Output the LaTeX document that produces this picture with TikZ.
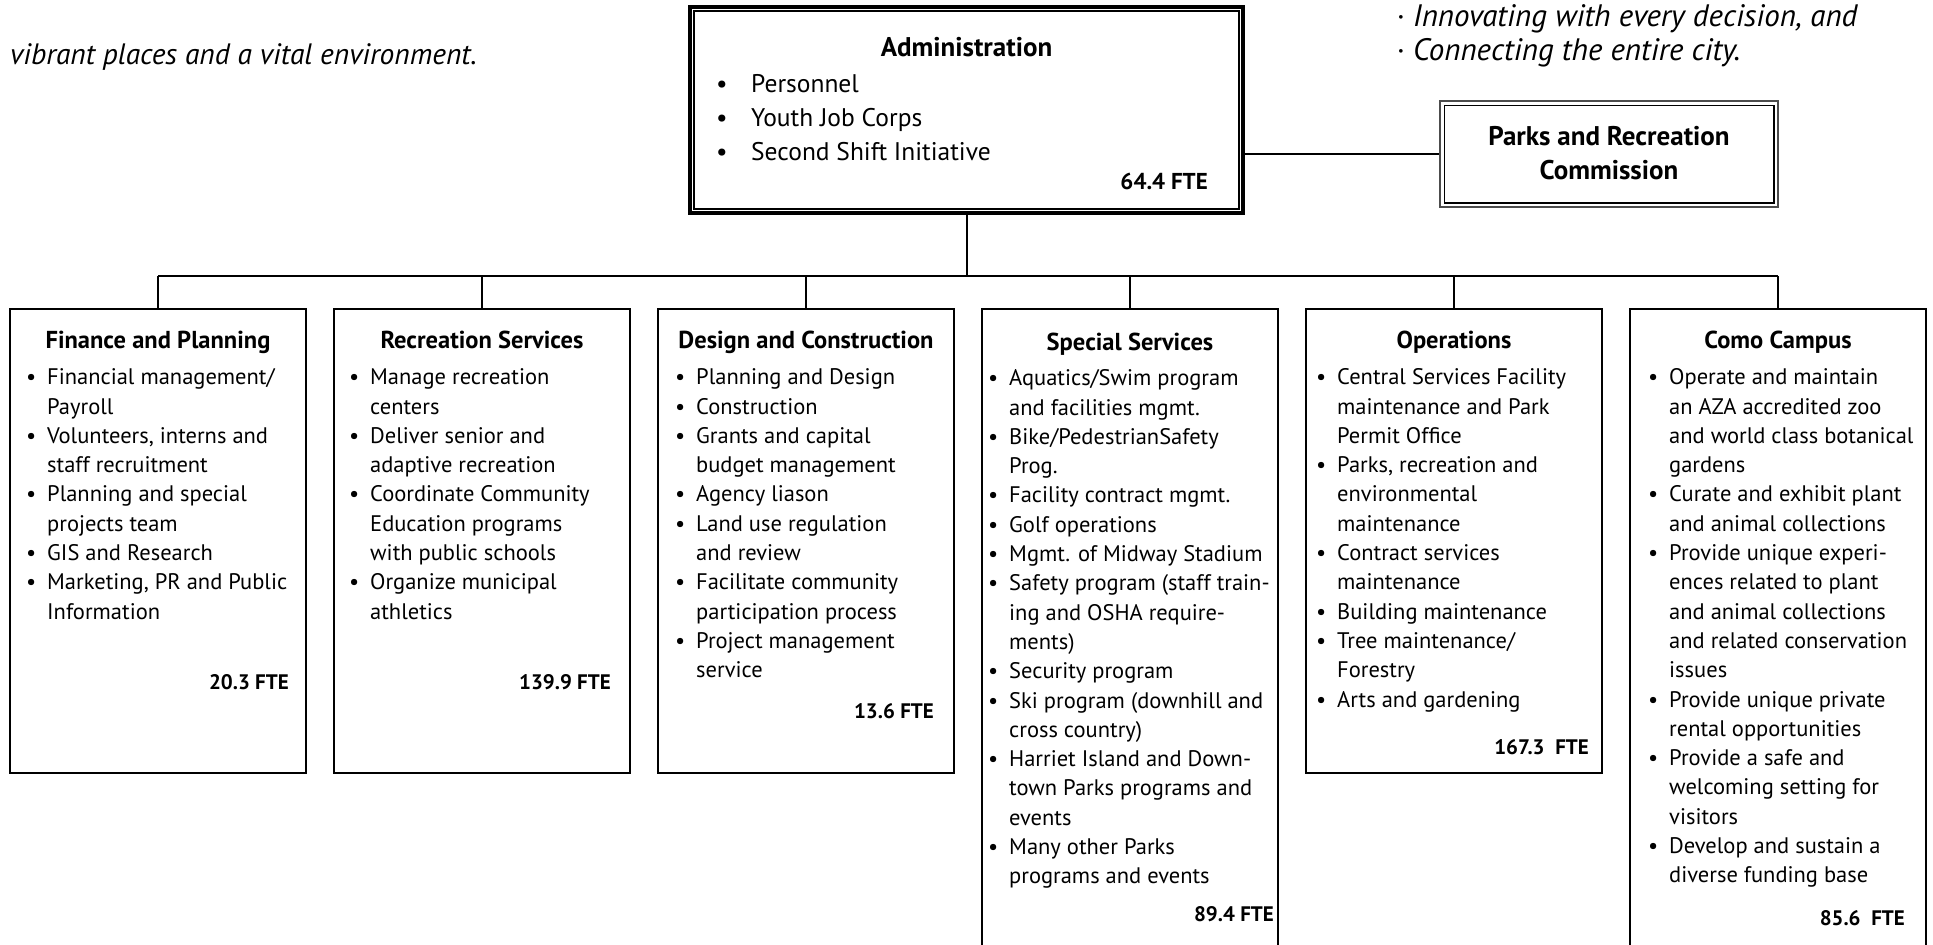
\documentclass[tikz,border=0pt]{standalone}
\usepackage{fontspec}
\setmainfont{PT Sans}
\newcommand\bul{\makebox[21pt][l]{\textbullet}}
\newcommand\abul{\makebox[35pt][l]{\textbullet}}
\newcommand\ibul{\makebox[17pt][l]{·}}
\begin{document}
\begin{tikzpicture}[x=1pt,y=-1pt,
  box/.style={draw, line width=2pt, minimum width=296pt, anchor=north, inner sep=0pt},
  ttl/.style={font=\bfseries\fontsize{24.5}{28}\selectfont, anchor=base, inner sep=0pt},
  lst/.style={anchor=north west, inner sep=0pt, font=\fontsize{22.5}{29.3}\selectfont},
  fte/.style={font=\bfseries\fontsize{21}{24}\selectfont, anchor=east, inner sep=0pt},
  conn/.style={line width=2pt},
  intro/.style={inner sep=0pt, font=\itshape\fontsize{29.5}{34}\selectfont}
]
\path[use as bounding box] (0,0) rectangle (1933,945);
\clip (0,0) rectangle (1933,945);

% intro texts
\node[intro, anchor=west] (introL) at (10,57) {vibrant places and a vital environment.};
\node[intro, font=\itshape\fontsize{31}{34.5}\selectfont, anchor=north west] (introR) at (1396,2) {\begin{tabular}{@{}l@{}}
\ibul Innovating with every decision, and\\
\ibul Connecting the entire city.
\end{tabular}};

% Administration
\node[draw, line width=4pt, minimum width=553pt, minimum height=206pt, inner sep=0pt] (adm) at (966.5,110) {};
\draw[line width=1.3pt] ([shift={(6,6)}]adm.north west) rectangle ([shift={(-6,-6)}]adm.south east);
\node[font=\bfseries\fontsize{27}{30}\selectfont, inner sep=0pt, anchor=base] (admT) at (966.5,56) {Administration};
\node[anchor=north west, inner sep=0pt, font=\fontsize{25.5}{34}\selectfont] (admL) at (716,68) {\begin{tabular}{@{}l@{}}
\abul Personnel\\
\abul Youth Job Corps\\
\abul Second Shift Initiative
\end{tabular}};
\node[fte, font=\bfseries\fontsize{23}{26}\selectfont] (admF) at (1208,181) {64.4 FTE};

% Commission
\node[draw, line width=1.2pt, draw=black!70, minimum width=338pt, minimum height=106pt, inner sep=0pt] (com) at (1609,154) {};
\draw[line width=1.8pt] ([shift={(5,5)}]com.north west) rectangle ([shift={(-5,-5)}]com.south east);
\node[font=\bfseries\fontsize{27}{34}\selectfont, align=center, inner sep=0pt] (comT) at (1609,153) {Parks and Recreation\\Commission};

\draw[conn] (adm.east |- com.west) -- (com.west);

% department boxes
\node[box, minimum height=464pt] (fin) at (158,308) {};
\node[box, minimum height=464pt] (rec) at (482,308) {};
\node[box, minimum height=464pt] (des) at (806,308) {};
\node[box, minimum height=660pt] (spe) at (1130,308) {};
\node[box, minimum height=464pt] (ope) at (1454,308) {};
\node[box, minimum height=660pt] (como) at (1778,308) {};

% connectors
\coordinate (busL) at (158,276);
\coordinate (busR) at (1778,276);
\draw[conn] (busL) -- (busR);
\draw[conn] (adm.south) -- (adm.south |- busL);
\foreach \b in {fin,rec,des,spe,ope,como}{
  \draw[conn] (\b.north) -- (\b.north |- busL);
}

% titles
\node[ttl] (finT) at (158,348) {Finance and Planning};
\node[ttl] (recT) at (482,348) {Recreation Services};
\node[ttl] (desT) at (806,348) {Design and Construction};
\node[ttl] (speT) at (1130,350) {Special Services};
\node[ttl] (opeT) at (1454,348) {Operations};
\node[ttl] (comoT) at (1778,348) {Como Campus};

% lists
\node[lst] (finL) at (26,364) {\begin{tabular}{@{}l@{}}
\bul Financial management/\\
\hspace{21pt}Payroll\\
\bul Volunteers, interns and\\
\hspace{21pt}staff recruitment\\
\bul Planning and special\\
\hspace{21pt}projects team\\
\bul GIS and Research\\
\bul Marketing, PR and Public\\
\hspace{21pt}Information
\end{tabular}};

\node[lst] (recL) at (349,364) {\begin{tabular}{@{}l@{}}
\bul Manage recreation\\
\hspace{21pt}centers\\
\bul Deliver senior and\\
\hspace{21pt}adaptive recreation\\
\bul Coordinate Community\\
\hspace{21pt}Education programs\\
\hspace{21pt}with public schools\\
\bul Organize municipal\\
\hspace{21pt}athletics
\end{tabular}};

\node[lst] (desL) at (675,364) {\begin{tabular}{@{}l@{}}
\bul Planning and Design\\
\bul Construction\\
\bul Grants and capital\\
\hspace{21pt}budget management\\
\bul Agency liason\\
\bul Land use regulation\\
\hspace{21pt}and review\\
\bul Facilitate community\\
\hspace{21pt}participation process\\
\bul Project management\\
\hspace{21pt}service
\end{tabular}};

\node[lst] (speL) at (988,365) {\begin{tabular}{@{}l@{}}
\bul Aquatics/Swim program\\
\hspace{21pt}and facilities mgmt.\\
\bul Bike/PedestrianSafety\\
\hspace{21pt}Prog.\\
\bul Facility contract mgmt.\\
\bul Golf operations\\
\bul Mgmt. of Midway Stadium\\
\bul Safety program (staff train-\\
\hspace{21pt}ing and OSHA require-\\
\hspace{21pt}ments)\\
\bul Security program\\
\bul Ski program (downhill and\\
\hspace{21pt}cross country)\\
\bul Harriet Island and Down-\\
\hspace{21pt}town Parks programs and\\
\hspace{21pt}events\\
\bul Many other Parks\\
\hspace{21pt}programs and events
\end{tabular}};

\node[lst] (opeL) at (1316,364) {\begin{tabular}{@{}l@{}}
\bul Central Services Facility\\
\hspace{21pt}maintenance and Park\\
\hspace{21pt}Permit Office\\
\bul Parks, recreation and\\
\hspace{21pt}environmental\\
\hspace{21pt}maintenance\\
\bul Contract services\\
\hspace{21pt}maintenance\\
\bul Building maintenance\\
\bul Tree maintenance/\\
\hspace{21pt}Forestry\\
\bul Arts and gardening
\end{tabular}};

\node[lst] (comoL) at (1648,364) {\begin{tabular}{@{}l@{}}
\bul Operate and maintain\\
\hspace{21pt}an AZA accredited zoo\\
\hspace{21pt}and world class botanical\\
\hspace{21pt}gardens\\
\bul Curate and exhibit plant\\
\hspace{21pt}and animal collections\\
\bul Provide unique experi-\\
\hspace{21pt}ences related to plant\\
\hspace{21pt}and animal collections\\
\hspace{21pt}and related conservation\\
\hspace{21pt}issues\\
\bul Provide unique private\\
\hspace{21pt}rental opportunities\\
\bul Provide a safe and\\
\hspace{21pt}welcoming setting for\\
\hspace{21pt}visitors\\
\bul Develop and sustain a\\
\hspace{21pt}diverse funding base
\end{tabular}};

% FTE
\node[fte] (finF) at (289,682) {20.3 FTE};
\node[fte] (recF) at (611,682) {139.9 FTE};
\node[fte] (desF) at (934,711) {13.6 FTE};
\node[fte] (speF) at (1274,914) {89.4 FTE};
\node[fte] (opeF) at (1589,747) {167.3~~FTE};
\node[fte] (comoF) at (1905,918) {85.6~~FTE};
\end{tikzpicture}
\end{document}
